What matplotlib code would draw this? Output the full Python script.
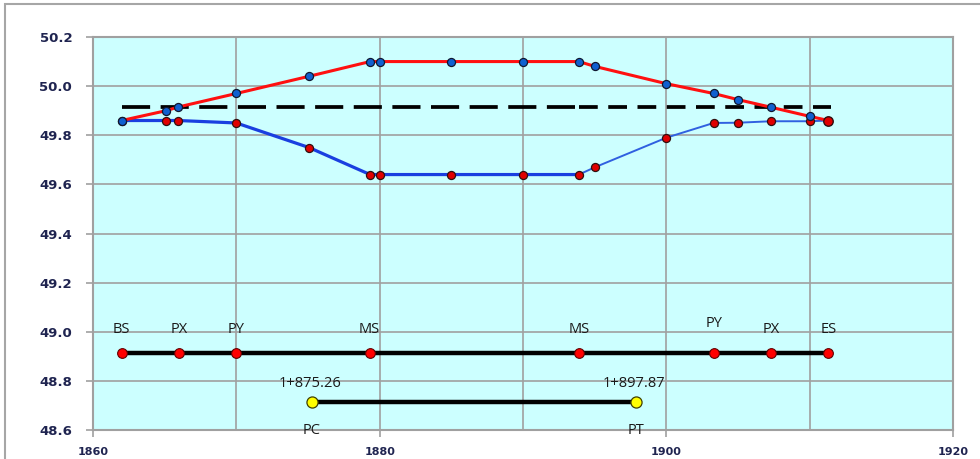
import matplotlib
matplotlib.use("Agg")
import matplotlib.pyplot as plt
from matplotlib.patches import Rectangle
from matplotlib.ticker import MultipleLocator

# Stations along the alignment
station = [1862.0, 1865.1, 1865.95, 1870.0, 1875.07, 1879.33, 1880.0, 1885.0,
           1890.0, 1893.9, 1895.03, 1900.0, 1903.3, 1905.0, 1907.3, 1910.0, 1911.3]
# Outer (raised) edge profile
outer_edge = [49.86, 49.90, 49.915, 49.97, 50.04, 50.10, 50.10, 50.10,
              50.10, 50.10, 50.08, 50.01, 49.97, 49.945, 49.914, 49.877, 49.86]
# Inner (lowered) edge profile
inner_edge = [49.86, 49.86, 49.86, 49.85, 49.75, 49.64, 49.64, 49.64,
              49.64, 49.64, 49.67, 49.79, 49.85, 49.851, 49.857, 49.857, 49.86]
# Centreline level
centre_level = 49.915

# Superelevation key points
key_names = ["BS", "PX", "PY", "MS", "MS", "PY", "PX", "ES"]
key_x = [1862.0, 1866.0, 1870.0, 1879.3, 1893.9, 1903.3, 1907.3, 1911.3]
key_level = 48.915

# Curve points
curve_names = ["PC", "PT"]
curve_x = [1875.26, 1897.87]
curve_labels = ["1+875.26", "1+897.87"]
curve_level = 48.715

x_ticks = [1860, 1880, 1900, 1920]
y_ticks = [48.6, 48.8, 49.0, 49.2, 49.4, 49.6, 49.8, 50.0, 50.2]

W, H = 980, 459
fig = plt.figure(figsize=(W / 100, H / 100), dpi=100)
fig.patch.set_facecolor("white")

# outer chart frame
fig.patches.append(Rectangle((5 / W, -0.05), 1.2, (H - 4) / H + 0.05,
                             transform=fig.transFigure, fill=False,
                             edgecolor="#a6a6a6", linewidth=1.5, zorder=0))

ax = fig.add_axes([93 / W, 29 / H, (953 - 93) / W, (430 - 37) / H])
ax.set_facecolor("#ccffff")
ax.set_xlim(1860, 1920)
ax.set_ylim(48.6, 50.2)

ax.xaxis.set_major_locator(MultipleLocator(20))
ax.xaxis.set_minor_locator(MultipleLocator(10))
ax.set_yticks(y_ticks)
ax.set_yticklabels([f"{v:.1f}" for v in y_ticks])
ax.set_xticks(x_ticks)
ax.set_xticklabels([str(v) for v in x_ticks])

grid_c = "#a0a0a0"
ax.grid(True, which="both", color=grid_c, linewidth=1.2, zorder=0)
ax.set_axisbelow(True)
for s in ax.spines.values():
    s.set_color(grid_c)
    s.set_linewidth(1.5)
ax.tick_params(axis="both", which="major", color=grid_c, length=5, width=1.2)
ax.tick_params(axis="x", which="minor", length=0)
ax.tick_params(axis="y", labelsize=9.5, labelcolor="#1f2450", pad=10)
ax.tick_params(axis="x", labelsize=8, labelcolor="#1f2450", pad=7)
for lab in ax.get_yticklabels() + ax.get_xticklabels():
    lab.set_fontweight("bold")
    lab.set_family("DejaVu Sans")

# centreline
split = 10
ax.plot([station[0], 1893.9], [centre_level, centre_level], color="black",
        linewidth=2.7, dashes=(7.5, 2.8), zorder=2)
ax.plot([1893.9, station[-1] + 0.2], [centre_level, centre_level], color="black",
        linewidth=2.7, dashes=(5.0, 2.8), zorder=2)

mk = dict(marker="o", markersize=5.8, markeredgecolor="#301010", markeredgewidth=0.9)

# inner edge profile (blue line, red markers)
ax.plot(station[:split], inner_edge[:split], color="#1a3fe0", linewidth=2.3, zorder=3)
ax.plot(station[split - 1:], inner_edge[split - 1:], color="#3060e0", linewidth=1.4, zorder=3)
ax.plot(station, inner_edge, linestyle="none", markerfacecolor="#e00000", zorder=4, **mk)

# outer edge profile (red line, blue markers)
ax.plot(station, outer_edge, color="#ff1010", linewidth=2.2, zorder=5,
        marker="o", markersize=5.8, markerfacecolor="#1060d0",
        markeredgecolor="#101830", markeredgewidth=0.9)
ax.plot(station[-1:], inner_edge[-1:], linestyle="none", markerfacecolor="#e00000",
        zorder=6, marker="o", markersize=6.8, markeredgecolor="#301010",
        markeredgewidth=1.0)

# superelevation key points
ax.plot(key_x, [key_level] * len(key_x), color="black", linewidth=3.2, zorder=3,
        marker="o", markersize=7, markerfacecolor="#ff0000",
        markeredgecolor="#600000", markeredgewidth=0.8)
lab_font = dict(family="Open Sans", fontsize=10.5, color="#1a1a1a", ha="center", va="center")
for i, (name, x) in enumerate(zip(key_names, key_x)):
    dy = 0.12 if name == "PY" and i > 3 else 0.095
    ax.text(x, key_level + dy, name, **lab_font)

# curve points
ax.plot(curve_x, [curve_level] * 2, color="black", linewidth=3.2, zorder=3,
        marker="o", markersize=8, markerfacecolor="#ffff00",
        markeredgecolor="#404000", markeredgewidth=0.9)
for name, x, sta in zip(curve_names, curve_x, curve_labels):
    ax.text(x - 0.15, curve_level + 0.075, sta, **lab_font)
    ax.text(x, curve_level - 0.115, name, clip_on=False, **lab_font)

fig.savefig("out.png", dpi=100)
